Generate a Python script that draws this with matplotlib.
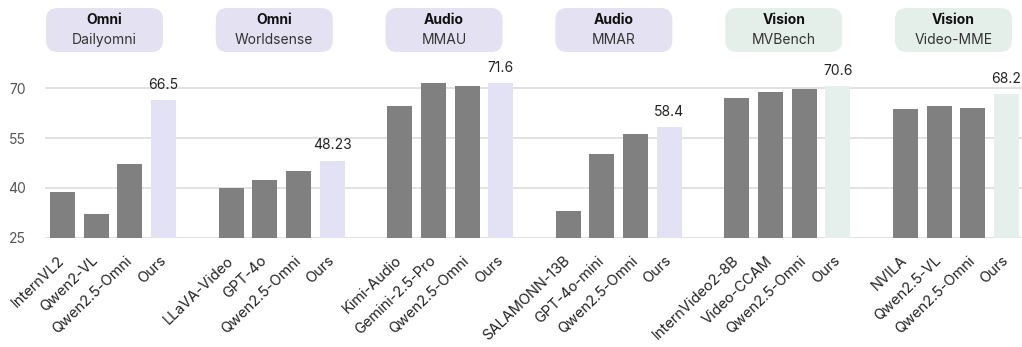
import matplotlib
matplotlib.use("Agg")
import matplotlib.pyplot as plt
from matplotlib.patches import FancyBboxPatch

plt.rcParams['font.family'] = ['Inter', 'DejaVu Sans']

# ---- data ----
header_types = ["Omni", "Omni", "Audio", "Audio", "Vision", "Vision"]
benchmarks = ["Dailyomni", "Worldsense", "MMAU", "MMAR", "MVBench", "Video-MME"]
models = [
    ["InternVL2", "Qwen2-VL", "Qwen2.5-Omni", "Ours"],
    ["LLaVA-Video", "GPT-4o", "Qwen2.5-Omni", "Ours"],
    ["Kimi-Audio", "Gemini-2.5-Pro", "Qwen2.5-Omni", "Ours"],
    ["SALAMONN-13B", "GPT-4o-mini", "Qwen2.5-Omni", "Ours"],
    ["InternVideo2-8B", "Video-CCAM", "Qwen2.5-Omni", "Ours"],
    ["NVILA", "Qwen2.5-VL", "Qwen2.5-Omni", "Ours"],
]
scores = [
    [38.8, 32.2, 47.2, 66.5],
    [40.0, 42.4, 45.1, 48.23],
    [64.8, 71.5, 70.8, 71.6],
    [33.1, 50.3, 56.3, 58.4],
    [67.2, 69.0, 69.9, 70.6],
    [63.8, 64.8, 64.2, 68.2],
]
ours_labels = ["66.5", "48.23", "71.6", "58.4", "70.6", "68.2"]
yticks = [25, 40, 55, 70]

# ---- style ----
GRAY = "#808080"
LAV = "#e3e2f4"
MINT = "#e5efeb"
box_colors = {"Omni": "#e4e1f3", "Audio": "#e4e1f3", "Vision": "#e5efea"}
ours_colors = {"Omni": LAV, "Audio": LAV, "Vision": MINT}

W, H = 1022, 347
fig = plt.figure(figsize=(W / 100, H / 100), dpi=100)
ax = fig.add_axes([45 / W, 109.3 / H, 977 / W, 189.2 / H])

xs, labels = [], []
for g, (names, vals) in enumerate(zip(models, scores)):
    for i, (n, v) in enumerate(zip(names, vals)):
        x = g * 5 + i
        is_ours = (n == "Ours")
        col = ours_colors[header_types[g]] if is_ours else GRAY
        ax.bar(x, v - 25, bottom=25, width=0.74, color=col, zorder=2)
        xs.append(x)
        labels.append(n)
        if is_ours:
            ax.annotate(ours_labels[g], (x, v), xytext=(0, 11),
                        textcoords="offset points", ha="center", va="center",
                        fontsize=10, color="#222222")

ax.set_xlim(-0.519, 28.46)
ax.set_ylim(25, 82)
ax.set_yticks(yticks)
ax.set_yticklabels([str(t) for t in yticks], fontsize=10, color="#555555")
ax.tick_params(axis="y", length=0, pad=14)
ax.grid(axis="y", color="#dddddd", linewidth=1.2, zorder=0)
ax.set_xticks(xs)
ax.set_xticklabels(labels, rotation=44, ha="right", va="center",
                   rotation_mode="anchor", fontsize=10.5, color="#222222")
ax.tick_params(axis="x", length=0, pad=15)
for s in ax.spines.values():
    s.set_visible(False)

# header boxes (pixel layout -> inches)
for g in range(6):
    cx = 104.5 + g * 169.8
    bw, bh = 117, 44
    x0 = cx - bw / 2
    y0 = H - 52
    box = FancyBboxPatch((x0 / 100, y0 / 100), bw / 100, bh / 100,
                         boxstyle="round,pad=0,rounding_size=0.12",
                         transform=fig.dpi_scale_trans,
                         facecolor=box_colors[header_types[g]], edgecolor="none")
    fig.add_artist(box)
    fig.text(cx / 100, (H - 20) / 100, header_types[g], transform=fig.dpi_scale_trans,
             ha="center", va="center", fontsize=10, fontweight="bold", color="#111111")
    fig.text(cx / 100, (H - 40) / 100, benchmarks[g], transform=fig.dpi_scale_trans,
             ha="center", va="center", fontsize=10, color="#333333")

fig.savefig("out.png", dpi=100)
